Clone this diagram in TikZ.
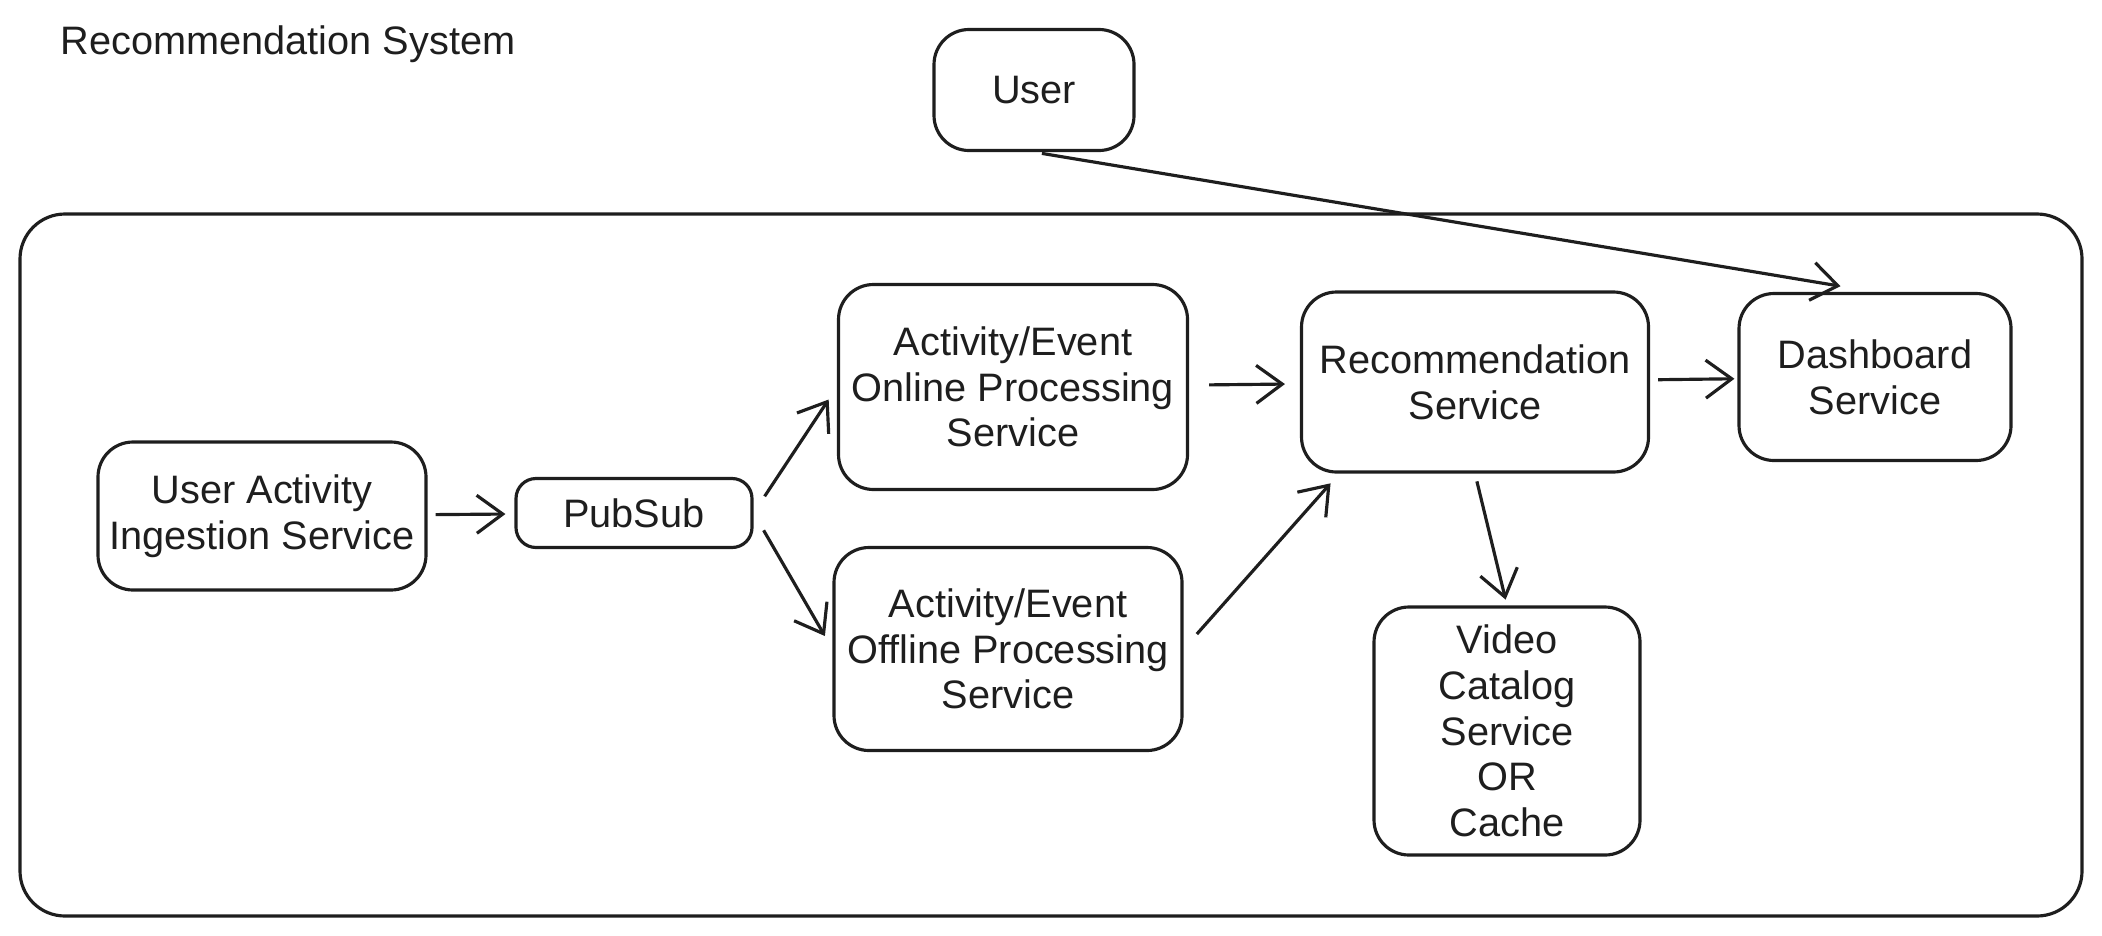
\documentclass[tikz,border=0pt]{standalone}
\usepackage{fontspec}
\setmainfont{Liberation Sans}
\usepackage{xcolor}
\usetikzlibrary{arrows.meta,positioning}
\definecolor{ink}{RGB}{30,30,30}
\tikzset{svc/.style={draw=ink,rounded corners=3.5mm,align=center,inner sep=0pt,line width=0.9pt,font=\fontsize{11.3}{13}\selectfont,text=ink},flow/.style={-{Straight Barb[length=2.6mm,width=3.8mm]},line width=0.9pt,draw=ink,shorten <=2mm,shorten >=1.5mm},frame/.style={draw=ink,rounded corners=4.5mm,line width=0.9pt,inner sep=0pt}}

\begin{document}
\begin{tikzpicture}
\useasboundingbox (0,0) rectangle (21.02,-9.35);
\node[anchor=west,inner sep=0pt,font=\fontsize{11.3}{13}\selectfont,text=ink] (title) at (0.60,-0.44) {Recommendation System};
\node[frame,minimum width=20.62cm,minimum height=7.02cm] (sys) at (10.51,-5.65) {};
\node[svc,minimum width=2.00cm,minimum height=1.21cm] (user) at (10.34,-0.90) {User};
\node[svc,minimum width=3.28cm,minimum height=1.48cm] (ingest) at (2.62,-5.16) {User Activity\\Ingestion Service};
\node[svc,rounded corners=2mm,minimum width=2.36cm,minimum height=0.69cm] (pubsub) at (6.34,-5.13) {PubSub};
\node[svc,minimum width=3.49cm,minimum height=2.05cm] (online) at (10.13,-3.87) {Activity/Event\\Online Processing\\Service};
\node[svc,minimum width=3.48cm,minimum height=2.03cm] (offline) at (10.08,-6.49) {Activity/Event\\Offline Processing\\Service};
\node[svc,minimum width=3.47cm,minimum height=1.80cm] (rec) at (14.75,-3.82) {Recommendation\\Service};
\node[svc,minimum width=2.72cm,minimum height=1.67cm] (dash) at (18.75,-3.77) {Dashboard\\Service};
\node[svc,minimum width=2.66cm,minimum height=2.48cm] (video) at (15.07,-7.31) {Video\\Catalog\\Service\\OR\\Cache};
\draw[flow,shorten <=0.8mm,shorten >=0.9mm] (ingest)--(pubsub);
\draw[flow] (pubsub.east)--(online.west);\draw[flow] (pubsub.east)--(offline.west);
\draw[flow] (online)--(rec);\draw[flow,shorten >=1.3mm] (offline.east)--(rec.214);
\draw[flow,shorten <=0.8mm,shorten >=0.3mm] (rec)--(dash);
\draw[flow,shorten <=0.8mm,shorten >=0.6mm] (rec.south)--(video.north);
\draw[flow,shorten <=0.8mm,shorten >=3.5mm] (user.south)--(dash.north);
\end{tikzpicture}
\end{document}
